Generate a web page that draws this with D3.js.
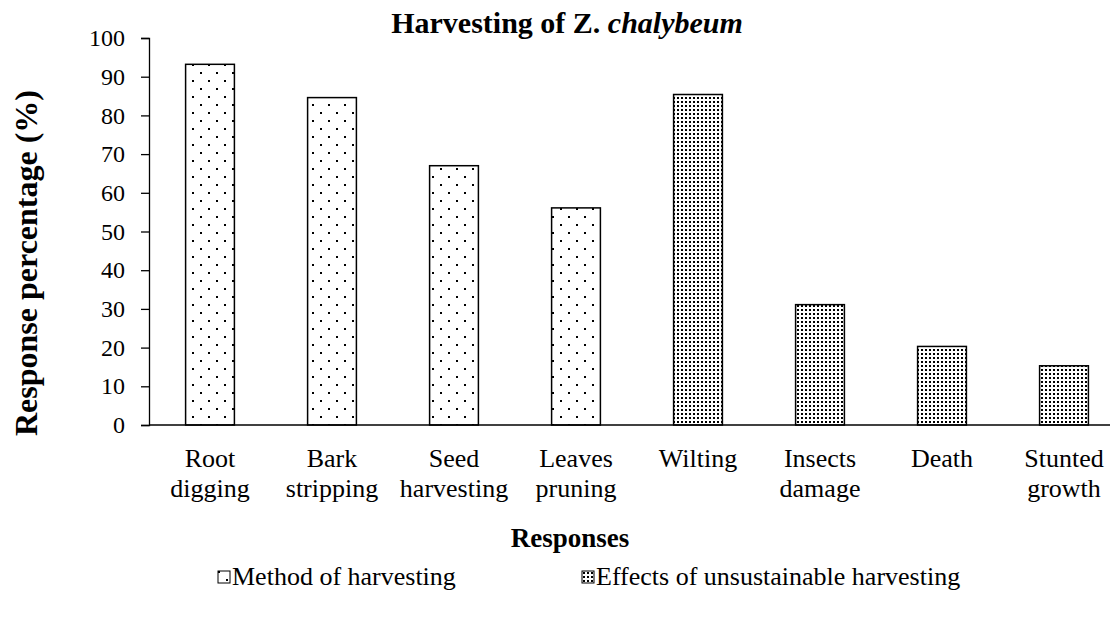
<!DOCTYPE html>
<html>
<head>
<meta charset="utf-8">
<script src="https://cdn.jsdelivr.net/npm/d3@7"></script>
</head>
<body style="margin:0">
<svg width="1110" height="618" font-family="Liberation Serif" style="font-family: 'Liberation Serif'"></svg>
<script>
// Chart data
const categories = ["Root digging", "Bark stripping", "Seed harvesting", "Leaves pruning",
                    "Wilting", "Insects damage", "Death", "Stunted growth"];
const labelLines = [["Root", "digging"], ["Bark", "stripping"], ["Seed", "harvesting"], ["Leaves", "pruning"],
                    ["Wilting"], ["Insects", "damage"], ["Death"], ["Stunted", "growth"]];
const values = [93.2, 84.6, 67.0, 56.1, 85.4, 31.1, 20.3, 15.3];
const groups = ["method", "method", "method", "method", "effect", "effect", "effect", "effect"];
const seriesNames = ["Method of harvesting", "Effects of unsustainable harvesting"];
const yTicks = [0, 10, 20, 30, 40, 50, 60, 70, 80, 90, 100];

const width = 1110;
const height = 618;
const margin = { left: 149, top: 38, bottom: 193 };
const plotRight = 1125;
const serif = "Liberation Serif";

const svg = d3.select("svg");

// Fill patterns for the two series
const defs = svg.append("defs");
const sparse = defs.append("pattern")
    .attr("id", "method")
    .attr("patternUnits", "userSpaceOnUse")
    .attr("width", 16).attr("height", 16);
sparse.append("rect").attr("width", 16).attr("height", 16).attr("fill", "#fff");
sparse.append("rect").attr("x", 0).attr("y", 0).attr("width", 2).attr("height", 2).attr("fill", "#000");
sparse.append("rect").attr("x", 8).attr("y", 8).attr("width", 2).attr("height", 2).attr("fill", "#000");

const dense = defs.append("pattern")
    .attr("id", "effect")
    .attr("patternUnits", "userSpaceOnUse")
    .attr("width", 4).attr("height", 4);
dense.append("rect").attr("width", 4).attr("height", 4).attr("fill", "#fff");
dense.append("rect").attr("x", 1).attr("y", 1).attr("width", 2).attr("height", 2).attr("fill", "#000");

// Scales
const x = d3.scaleBand()
    .domain(categories)
    .range([margin.left, plotRight])
    .paddingInner(0.6)
    .paddingOuter(0.3);

const y = d3.scaleLinear()
    .domain([0, 100])
    .range([height - margin.bottom, margin.top]);

// Bars
svg.append("g")
    .selectAll("rect")
    .data(categories)
    .enter().append("rect")
    .attr("x", d => x(d))
    .attr("y", (d, i) => y(values[i]))
    .attr("width", x.bandwidth())
    .attr("height", (d, i) => y(0) - y(values[i]))
    .attr("fill", (d, i) => `url(#${groups[i]})`)
    .attr("stroke", "#000")
    .attr("stroke-width", 1.5);

// Y axis
const yAxis = svg.append("g")
    .attr("transform", `translate(${margin.left},0)`)
    .call(d3.axisLeft(y).tickValues(yTicks).tickSize(8).tickPadding(16));
yAxis.attr("font-family", serif).attr("font-size", 24);
yAxis.select(".domain").attr("stroke-width", 1.3);
yAxis.selectAll(".tick line").attr("stroke-width", 1.3);
yAxis.selectAll("text")
    .attr("font-family", serif)
    .attr("font-size", 24);

// X axis line
svg.append("line")
    .attr("x1", margin.left).attr("x2", width)
    .attr("y1", y(0)).attr("y2", y(0))
    .attr("stroke", "#000")
    .attr("stroke-width", 1.3);

// Category labels
const catLabel = svg.append("g")
    .selectAll("text")
    .data(categories)
    .enter().append("text")
    .attr("text-anchor", "middle")
    .attr("font-family", serif)
    .attr("font-size", 26);
catLabel.each(function(d, i) {
    d3.select(this).selectAll("tspan")
        .data(labelLines[i])
        .enter().append("tspan")
        .attr("x", x(d) + x.bandwidth() / 2)
        .attr("y", (t, j) => 467 + j * 30)
        .text(t => t);
});

// Title
const title = svg.append("text")
    .attr("x", 567)
    .attr("y", 33)
    .attr("text-anchor", "middle")
    .attr("font-family", serif)
    .attr("font-size", 30)
    .attr("font-weight", "bold");
title.append("tspan").text("Harvesting of Z. ");
title.append("tspan").attr("font-style", "italic").text("chalybeum");

// Axis titles
svg.append("text")
    .attr("x", 570)
    .attr("y", 547)
    .attr("text-anchor", "middle")
    .attr("font-family", serif)
    .attr("font-size", 27)
    .attr("font-weight", "bold")
    .text("Responses");

svg.append("text")
    .attr("transform", `translate(37,263) rotate(-90)`)
    .attr("text-anchor", "middle")
    .attr("font-family", serif)
    .attr("font-size", 32)
    .attr("font-weight", "bold")
    .text("Response percentage (%)");

// Legend
const legendX = [218, 582];
const legend = svg.append("g")
    .selectAll("g")
    .data(seriesNames)
    .enter().append("g")
    .attr("transform", (d, i) => `translate(${legendX[i]},571)`);
legend.append("rect")
    .attr("width", 12).attr("height", 12)
    .attr("fill", (d, i) => `url(#${i === 0 ? "method" : "effect"})`)
    .attr("stroke", "#000")
    .attr("stroke-width", 1);
legend.append("text")
    .attr("x", 14)
    .attr("y", 14)
    .attr("font-family", serif)
    .attr("font-size", 26)
    .text(d => d);
</script>
</body>
</html>
